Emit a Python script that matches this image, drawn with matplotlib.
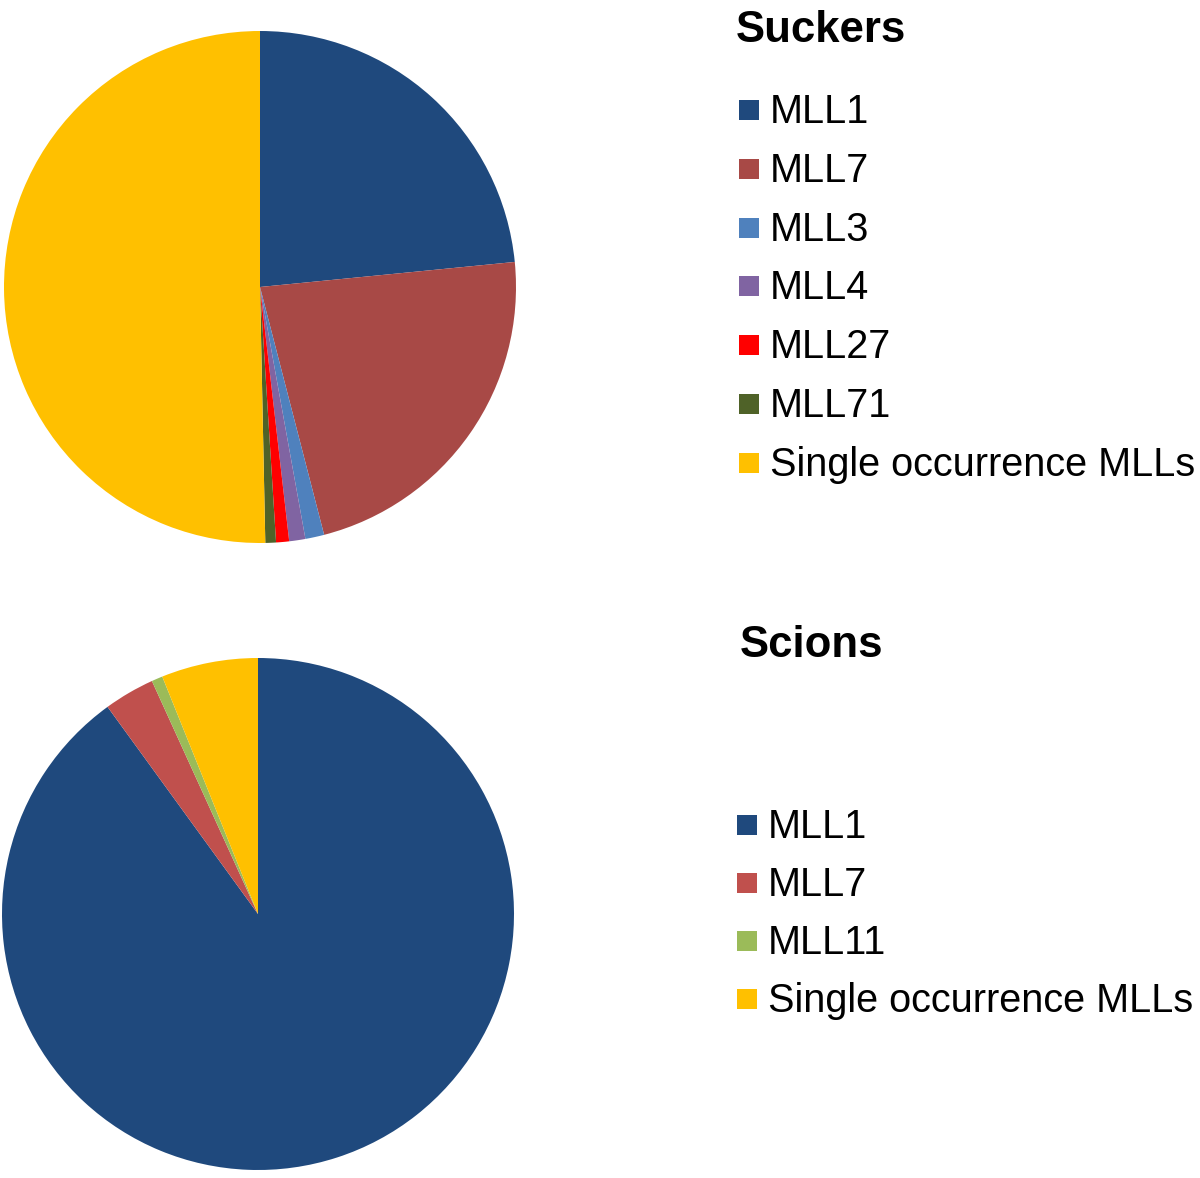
import numpy as np
import matplotlib.pyplot as plt
from matplotlib.patches import Rectangle

plt.rcParams['font.family'] = ['Liberation Sans', 'DejaVu Sans']

# Suckers (percent)
suckers_labels = ['MLL1', 'MLL7', 'MLL3', 'MLL4', 'MLL27', 'MLL71', 'Single occurrence MLLs']
suckers_values = [23.44, 22.53, 1.19, 1.02, 0.82, 0.67, 50.33]
suckers_colors = ['#1F497D', '#A84946', '#4F81BD', '#8064A2', '#FF0000', '#4F6228', '#FFC000']

# Scions (percent)
scions_labels = ['MLL1', 'MLL7', 'MLL11', 'Single occurrence MLLs']
scions_values = [90.0, 3.2, 0.7, 6.1]
scions_colors = ['#1F497D', '#C0504D', '#9BBB59', '#FFC000']

W, H = 1200, 1178
fig = plt.figure(figsize=(W / 100, H / 100), dpi=100)


def pie_axes(cx, cy, r):
    # pixel centre/radius -> figure fraction axes
    return fig.add_axes([(cx - r) / W, (H - cy - r) / H, 2 * r / W, 2 * r / H])


def draw_legend(title, title_x, title_base, labels, colors, box_x, text_x, base0, pitch):
    fig.text(title_x / W, 1 - title_base / H, title, fontsize=31.5, fontweight='bold',
             ha='left', va='baseline')
    for i, (lab, col) in enumerate(zip(labels, colors)):
        base = base0 + i * pitch
        fig.patches.append(Rectangle((box_x / W, 1 - (base - 3) / H), 20 / W, 20 / H,
                                     transform=fig.transFigure, facecolor=col,
                                     edgecolor='none'))
        fig.text(text_x / W, 1 - base / H, lab, fontsize=28.5, ha='left', va='baseline')


ax1 = pie_axes(260, 287, 256)
ax1.pie(suckers_values, colors=suckers_colors, startangle=90, counterclock=False,
        wedgeprops=dict(linewidth=0))
ax1.set_xlim(-1, 1)
ax1.set_ylim(-1, 1)
ax1.axis('off')

ax2 = pie_axes(258, 914, 256)
ax2.pie(scions_values, colors=scions_colors, startangle=90, counterclock=False,
        wedgeprops=dict(linewidth=0))
ax2.set_xlim(-1, 1)
ax2.set_ylim(-1, 1)
ax2.axis('off')

draw_legend('Suckers', 736, 42, suckers_labels, suckers_colors, 739, 770, 123, 58.8)
draw_legend('Scions', 740, 657, scions_labels, scions_colors, 737, 768, 838, 58)

plt.savefig('out.png', dpi=100)
